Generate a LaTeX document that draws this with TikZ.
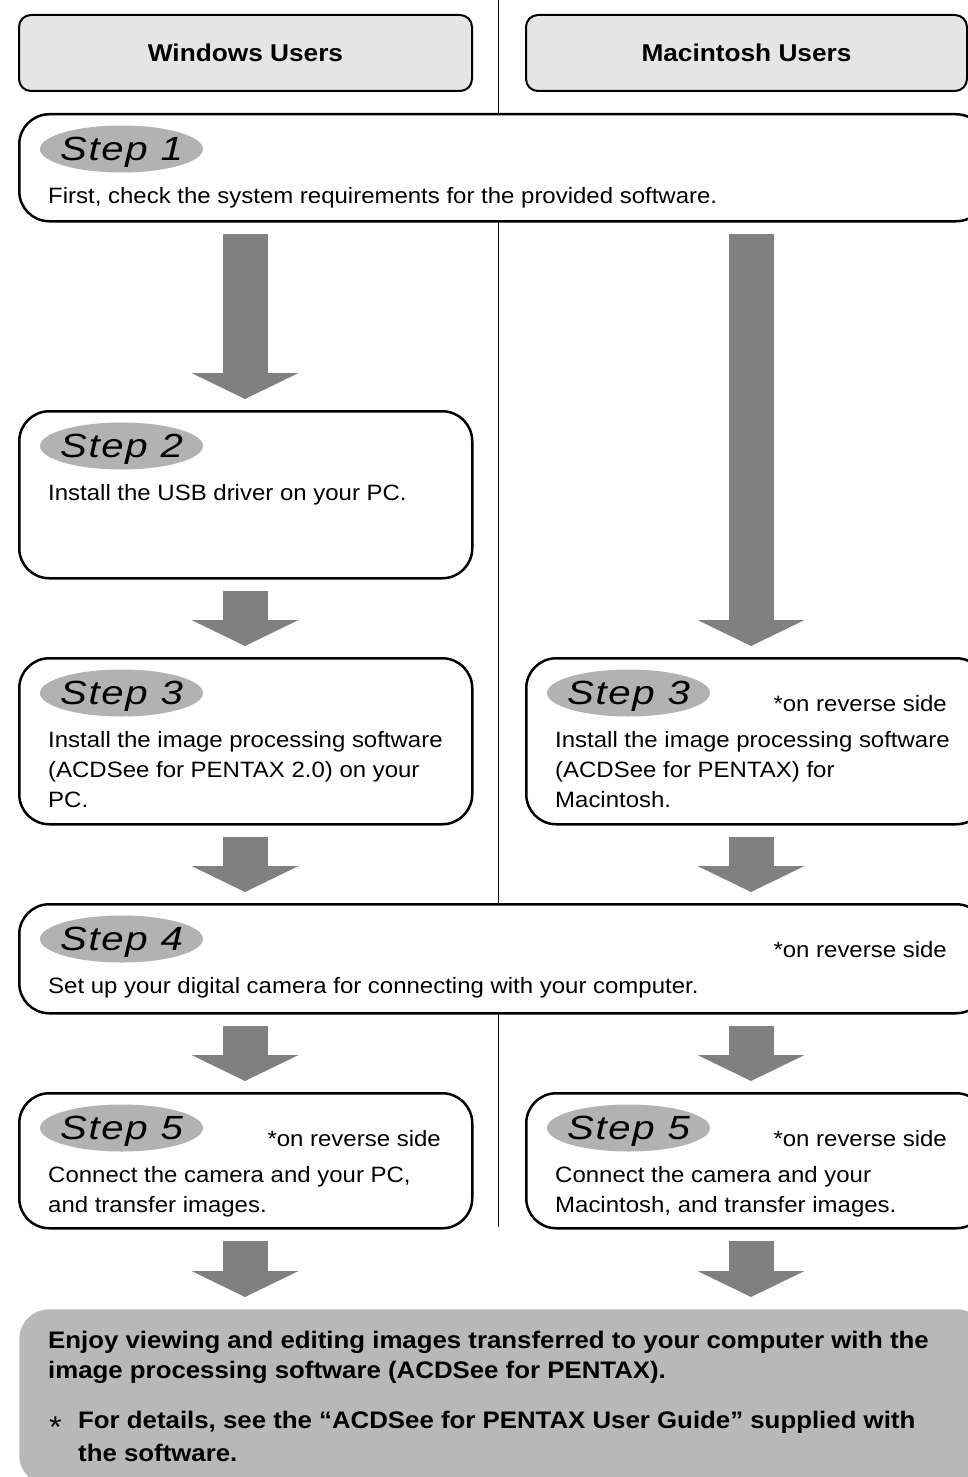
\documentclass[tikz,border=0pt]{standalone}
\usepackage{fontspec}
\setmainfont[FakeStretch=1.08]{Liberation Sans}
\newfontfamily\stepfont[FakeStretch=1.2, LetterSpace=5]{Liberation Sans}
\usetikzlibrary{shapes.geometric,arrows.meta}
\definecolor{hdgray}{gray}{0.9}
\definecolor{taggray}{gray}{0.7}
\definecolor{arrowgray}{gray}{0.5}
\definecolor{basegray}{gray}{0.72}
\newcommand\bodyfont{\fontsize{22.2}{30}\selectfont}

\begin{document}
\begin{tikzpicture}[x=1pt, y=-1pt,
  header/.style = {draw, line width=2pt, fill=hdgray, rounded corners=12pt, anchor=north west, inner sep=0, minimum height=76, font=\bfseries\fontsize{24.3}{28}\selectfont},
  stepbox/.style = {draw, line width=2.5pt, fill=white, rounded corners=30pt, anchor=north west, inner sep=0},
  steptag/.style = {ellipse, fill=taggray, minimum width=163, minimum height=47, inner xsep=-25pt, inner ysep=0, text depth=0pt, font=\stepfont\itshape\fontsize{33.5}{34}\selectfont},
  body/.style = {anchor=base west, inner sep=0, align=left, font=\bodyfont},
  note/.style = {anchor=base east, inner sep=0, font=\bodyfont},
  flow/.style = {draw=arrowgray, line width=45pt, -{Triangle[width=107pt, length=26pt, line width=0pt]}, shorten <=11pt, shorten >=11pt}]
	\useasboundingbox (0,0) rectangle (967,1477);
	\coordinate (dtop) at (498,0);
	\coordinate (dbot) at (498,1227);
	\coordinate (w) at (245,0);
	\coordinate (m) at (751,0);
	\draw[line width=1pt] (dtop) -- (dbot);
	\node[header, minimum width=453] (win) at (18,14) {Windows Users};
	\node[header, minimum width=441] (mac) at (525,14) {Macintosh Users};
	\node[stepbox, minimum width=967, minimum height=107] (s1) at (18,113) {};
	\node[stepbox, minimum width=453, minimum height=167] (s2) at (18,410) {};
	\node[stepbox, minimum width=453, minimum height=166] (s3w) at (18,657) {};
	\node[stepbox, minimum width=460, minimum height=166] (s3m) at (525,657) {};
	\node[stepbox, minimum width=967, minimum height=109] (s4) at (18,903) {};
	\node[stepbox, minimum width=453, minimum height=135] (s5w) at (18,1092) {};
	\node[stepbox, minimum width=460, minimum height=135] (s5m) at (525,1092) {};
	\node[stepbox, draw=none, fill=basegray, minimum width=967, minimum height=176] (enjoy) at (18,1308) {};
	\node[steptag] (t1) at (121.5,149) {Step 1};
	\node[steptag] (t2) at (121.5,446) {Step 2};
	\node[steptag] (t3w) at (121.5,693) {Step 3};
	\node[steptag] (t3m) at (628.5,693) {Step 3};
	\node[steptag] (t4) at (121.5,939) {Step 4};
	\node[steptag] (t5w) at (121.5,1128) {Step 5};
	\node[steptag] (t5m) at (628.5,1128) {Step 5};
	\node[note] (n3m) at (947,711) {*on reverse side};
	\node[note] (n4) at (947,957) {*on reverse side};
	\node[note] (n5w) at (441,1146) {*on reverse side};
	\node[note] (n5m) at (947,1146) {*on reverse side};
	% multi-line nodes: base is the last line
	\node[body] (b1) at (48,203) {First, check the system requirements for the provided software.};
	\node[body] (b2) at (48,500) {Install the USB driver on your PC.};
	\node[body] (b3w) at (48,807) {Install the image processing software\\(ACDSee for PENTAX 2.0) on your\\PC.};
	\node[body] (b3m) at (555,807) {Install the image processing software\\(ACDSee for PENTAX) for\\Macintosh.};
	\node[body] (b4) at (48,993) {Set up your digital camera for connecting with your computer.};
	\node[body] (b5w) at (48,1212) {Connect the camera and your PC,\\and transfer images.};
	\node[body] (b5m) at (555,1212) {Connect the camera and your\\Macintosh, and transfer images.};
	\node[body, font=\bfseries\fontsize{23.9}{30}\selectfont] (e1) at (48,1378) {Enjoy viewing and editing images transferred to your computer with the\\image processing software (ACDSee for PENTAX).};
	\node[body, font=\fontsize{30}{30}\selectfont] (ast) at (49,1437) {*};
	\node[body, font=\bfseries\fontsize{23.9}{33}\selectfont] (e2) at (78,1461) {For details, see the ``ACDSee for PENTAX User Guide'' supplied with\\the software.};
	\draw[flow] (s1.south -| w) -- (s2.north -| w);
	\draw[flow] (s1.south -| m) -- (s3m.north -| m);
	\draw[flow] (s2.south -| w) -- (s3w.north -| w);
	\draw[flow] (s3w.south -| w) -- (s4.north -| w);
	\draw[flow] (s3m.south -| m) -- (s4.north -| m);
	\draw[flow] (s4.south -| w) -- (s5w.north -| w);
	\draw[flow] (s4.south -| m) -- (s5m.north -| m);
	\draw[flow] (s5w.south -| w) -- (enjoy.north -| w);
	\draw[flow] (s5m.south -| m) -- (enjoy.north -| m);
\end{tikzpicture}
\end{document}
